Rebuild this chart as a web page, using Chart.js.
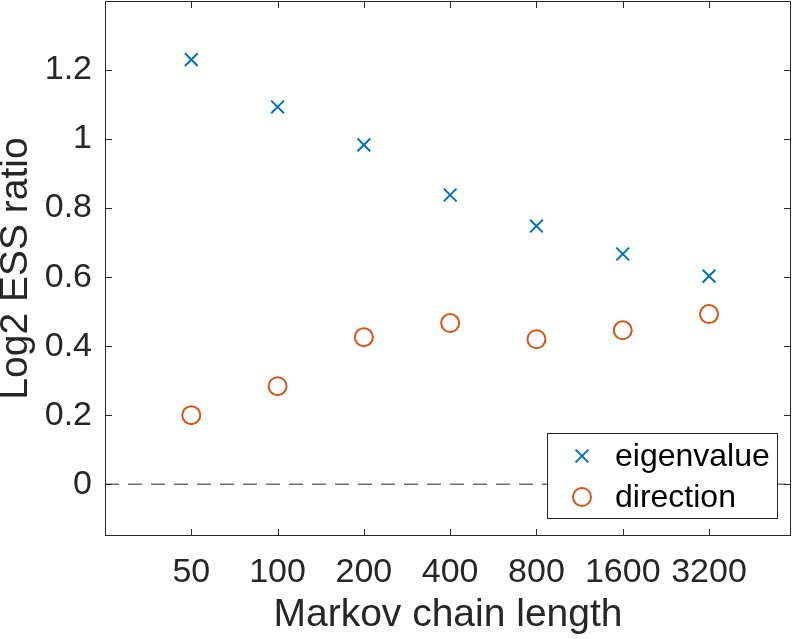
<!DOCTYPE html>
<html lang="en">
<head>
    <title>Log2 ESS ratio</title>
    <script src="https://cdn.jsdelivr.net/npm/chart.js"></script>
    <style>
        html, body { margin: 0; padding: 0; background: #fff; }
    </style>
</head>
<body>
<canvas id="essChart" width="797" height="639"></canvas>

<script>
    const chainLengths = ['50', '100', '200', '400', '800', '1600', '3200'];
    const eigenvalue = [1.230, 1.093, 0.983, 0.838, 0.748, 0.667, 0.603];
    const direction = [0.200, 0.284, 0.426, 0.467, 0.420, 0.446, 0.493];
    const yTickValues = [0, 0.2, 0.4, 0.6, 0.8, 1, 1.2];

    const FONT = '"Liberation Sans", Arial, Helvetica, sans-serif';
    const INK = '#262626';
    const BLUE = '#0072BD';
    const ORANGE = '#D95319';

    const toPoints = vals => vals.map((v, i) => ({x: i + 1, y: v}));

    // MATLAB-like box, inward ticks, zero line and legend
    const matlabFrame = {
        id: 'matlabFrame',
        beforeDatasetsDraw(chart) {
            const {ctx, chartArea: a, scales: {y}} = chart;
            const py = y.getPixelForValue(0);
            ctx.save();
            ctx.strokeStyle = '#6e6e6e';
            ctx.lineWidth = 1.5;
            ctx.setLineDash([14, 9]);
            ctx.beginPath();
            ctx.moveTo(a.left, py);
            ctx.lineTo(a.right, py);
            ctx.stroke();
            ctx.restore();
        },
        afterDraw(chart) {
            const {ctx, chartArea: a, scales: {x, y}} = chart;
            const tl = 7;
            ctx.save();
            ctx.strokeStyle = INK;
            ctx.lineWidth = 1;
            ctx.strokeRect(a.left + 0.5, a.top + 0.5, a.width - 1, a.height - 1);
            ctx.beginPath();
            x.ticks.forEach(t => {
                const px = Math.round(x.getPixelForValue(t.value)) + 0.5;
                ctx.moveTo(px, a.bottom); ctx.lineTo(px, a.bottom - tl);
                ctx.moveTo(px, a.top); ctx.lineTo(px, a.top + tl);
            });
            y.ticks.forEach(t => {
                const py = Math.round(y.getPixelForValue(t.value)) + 0.5;
                ctx.moveTo(a.left, py); ctx.lineTo(a.left + tl, py);
                ctx.moveTo(a.right, py); ctx.lineTo(a.right - tl, py);
            });
            ctx.stroke();

            // legend box
            const bx = 547, by = 433, bw = 230, bh = 85;
            ctx.fillStyle = '#fff';
            ctx.fillRect(bx, by, bw, bh);
            ctx.strokeRect(bx + 0.5, by + 0.5, bw, bh);
            const items = chart.data.datasets;
            ctx.font = '32px ' + FONT;
            ctx.textBaseline = 'middle';
            ctx.textAlign = 'left';
            items.forEach((ds, i) => {
                const cy = by + 23 + i * 41;
                ctx.strokeStyle = ds.borderColor;
                ctx.fillStyle = ds.backgroundColor;
                ctx.lineWidth = ds.borderWidth;
                Chart.helpers.drawPoint(ctx, {
                    pointStyle: ds.pointStyle,
                    radius: ds.pointRadius,
                    borderWidth: ds.borderWidth
                }, bx + 35, cy);
                ctx.fillStyle = '#000';
                ctx.fillText(ds.label, bx + 68, cy + 1);
            });
            ctx.restore();
        }
    };

    const ctx = document.getElementById('essChart').getContext('2d');
    new Chart(ctx, {
        type: 'scatter',
        data: {
            datasets: [{
                label: 'eigenvalue',
                data: toPoints(eigenvalue),
                pointStyle: 'crossRot',
                pointRadius: 9,
                borderWidth: 2,
                borderColor: BLUE,
                backgroundColor: BLUE
            }, {
                label: 'direction',
                data: toPoints(direction),
                pointStyle: 'circle',
                pointRadius: 9,
                borderWidth: 2,
                borderColor: ORANGE,
                backgroundColor: 'rgba(0,0,0,0)'
            }]
        },
        options: {
            responsive: false,
            animation: false,
            devicePixelRatio: 1,
            layout: {autoPadding: false, padding: {top: 1, right: 6, left: 0, bottom: 0}},
            plugins: {
                legend: {display: false},
                tooltip: {enabled: false}
            },
            scales: {
                x: {
                    type: 'linear',
                    min: 0,
                    max: 7.95,
                    afterBuildTicks: s => { s.ticks = chainLengths.map((_, i) => ({value: i + 1})); },
                    afterFit: s => {
                        s.height = 103;
                        s.paddingLeft = 0;
                        s.paddingRight = 0;
                    },
                    grid: {display: false, drawTicks: false},
                    border: {display: false},
                    ticks: {
                        padding: 16,
                        color: INK,
                        font: {family: FONT, size: 34},
                        maxRotation: 0,
                        autoSkip: false,
                        callback: v => chainLengths[v - 1]
                    },
                    title: {
                        display: true,
                        text: 'Markov chain length',
                        color: INK,
                        padding: 0,
                        font: {family: FONT, size: 39}
                    }
                },
                y: {
                    min: -0.15,
                    max: 1.4,
                    afterBuildTicks: s => { s.ticks = yTickValues.map(v => ({value: v})); },
                    afterFit: s => {
                        s.width = 105;
                        s.paddingTop = 0;
                        s.paddingBottom = 0;
                    },
                    grid: {display: false, drawTicks: false},
                    border: {display: false},
                    ticks: {
                        padding: 13,
                        color: INK,
                        font: {family: FONT, size: 34},
                        callback: v => String(v)
                    },
                    title: {
                        display: true,
                        text: 'Log2 ESS ratio',
                        color: INK,
                        padding: 0,
                        font: {family: FONT, size: 39, lineHeight: 0.85}
                    }
                }
            }
        },
        plugins: [matlabFrame]
    });
</script>
</body>
</html>
